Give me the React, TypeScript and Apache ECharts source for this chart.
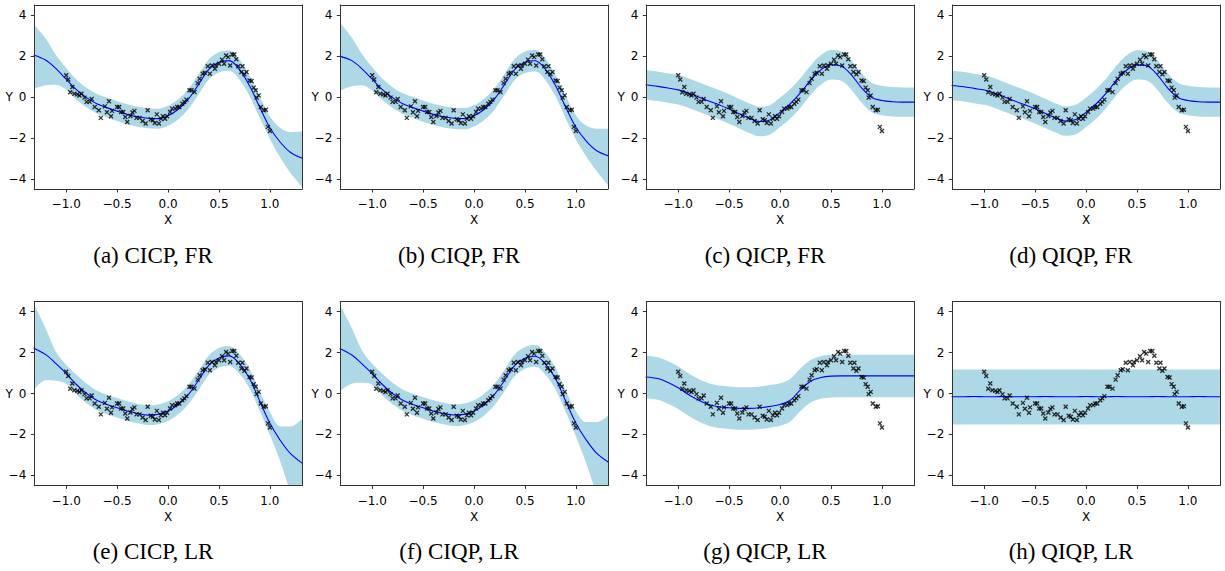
import React, { useEffect, useRef } from 'react';
import * as echarts from 'echarts';

// x positions at which the curves/bands were read
const X_NODES = [-1.32, -1.2, -1.1, -1.0, -0.9, -0.8, -0.7, -0.6, -0.5, -0.4, -0.3, -0.2, -0.1, 0.0, 0.1, 0.2, 0.3, 0.4, 0.5, 0.6, 0.7, 0.8, 0.9, 1.0, 1.1, 1.2, 1.32];

const MEAN_A = [2.05, 1.8, 1.39, 0.87, 0.36, -0.03, -0.33, -0.52, -0.69, -0.85, -0.97, -1.04, -1.06, -0.92, -0.6, -0.1, 0.62, 1.35, 1.7, 1.78, 1.35, 0.55, -0.5, -1.5, -2.2, -2.7, -3.0];
const UPPER_A = [3.55, 2.85, 2.05, 1.42, 0.86, 0.45, 0.15, -0.03, -0.2, -0.36, -0.48, -0.55, -0.57, -0.43, -0.11, 0.39, 1.11, 1.84, 2.2, 2.28, 1.85, 1.05, 0.02, -0.95, -1.5, -1.72, -1.68];
const LOWER_A = [0.4, 0.57, 0.6, 0.35, -0.12, -0.5, -0.8, -1.0, -1.18, -1.34, -1.46, -1.53, -1.55, -1.41, -1.09, -0.59, 0.13, 0.86, 1.2, 1.28, 0.86, 0.05, -1.02, -2.05, -2.95, -3.7, -4.42];

const MEAN_B = [2.0, 1.78, 1.38, 0.87, 0.36, -0.03, -0.33, -0.52, -0.69, -0.85, -0.97, -1.04, -1.06, -0.92, -0.6, -0.1, 0.62, 1.35, 1.7, 1.77, 1.35, 0.55, -0.5, -1.48, -2.15, -2.62, -2.88];
const UPPER_B = [3.65, 2.9, 2.1, 1.45, 0.9, 0.48, 0.18, 0.0, -0.17, -0.33, -0.45, -0.52, -0.54, -0.4, -0.08, 0.42, 1.14, 1.87, 2.23, 2.3, 1.88, 1.08, 0.05, -0.9, -1.4, -1.55, -1.55];
const LOWER_B = [0.3, 0.52, 0.58, 0.32, -0.15, -0.53, -0.83, -1.03, -1.21, -1.37, -1.49, -1.56, -1.58, -1.44, -1.12, -0.62, 0.1, 0.83, 1.17, 1.25, 0.83, 0.02, -1.05, -2.08, -2.9, -3.6, -4.35];

const MEAN_C = [0.6, 0.52, 0.44, 0.35, 0.2, 0.0, -0.2, -0.38, -0.59, -0.82, -1.04, -1.2, -1.12, -0.75, -0.33, 0.2, 0.82, 1.32, 1.58, 1.52, 1.08, 0.45, -0.02, -0.17, -0.23, -0.25, -0.25];
const UPPER_C = [1.32, 1.24, 1.16, 1.07, 0.92, 0.72, 0.52, 0.34, 0.13, -0.1, -0.32, -0.48, -0.4, -0.03, 0.39, 0.92, 1.54, 2.04, 2.3, 2.24, 1.8, 1.17, 0.7, 0.55, 0.49, 0.47, 0.47];
const LOWER_C = [-0.12, -0.2, -0.28, -0.37, -0.52, -0.72, -0.92, -1.1, -1.31, -1.54, -1.76, -1.92, -1.84, -1.47, -1.05, -0.52, 0.1, 0.6, 0.86, 0.8, 0.36, -0.27, -0.74, -0.89, -0.95, -0.97, -0.97];

const MEAN_D = [0.56, 0.5, 0.42, 0.34, 0.2, 0.0, -0.2, -0.38, -0.58, -0.8, -1.02, -1.18, -1.1, -0.75, -0.33, 0.2, 0.82, 1.32, 1.57, 1.52, 1.08, 0.45, -0.02, -0.17, -0.23, -0.25, -0.25];
const UPPER_D = [1.28, 1.22, 1.14, 1.06, 0.92, 0.72, 0.52, 0.34, 0.14, -0.08, -0.3, -0.46, -0.38, -0.03, 0.39, 0.92, 1.54, 2.04, 2.29, 2.24, 1.8, 1.17, 0.7, 0.55, 0.49, 0.47, 0.47];
const LOWER_D = [-0.16, -0.22, -0.3, -0.38, -0.52, -0.72, -0.92, -1.1, -1.3, -1.52, -1.74, -1.9, -1.82, -1.47, -1.05, -0.52, 0.1, 0.6, 0.85, 0.8, 0.36, -0.27, -0.74, -0.89, -0.95, -0.97, -0.97];

const MEAN_E = [2.23, 1.9, 1.46, 0.98, 0.44, 0.0, -0.33, -0.54, -0.7, -0.86, -0.98, -1.06, -1.02, -0.86, -0.54, -0.05, 0.65, 1.38, 1.74, 1.84, 1.46, 0.73, -0.37, -1.46, -2.28, -2.93, -3.42];
const UPPER_E = [4.4, 3.17, 2.03, 1.4, 0.92, 0.48, 0.15, -0.06, -0.22, -0.38, -0.5, -0.58, -0.54, -0.38, -0.06, 0.43, 1.13, 1.86, 2.22, 2.32, 1.94, 1.21, 0.11, -0.9, -1.6, -1.62, -1.22];
const LOWER_E = [0.15, 0.65, 0.62, 0.48, -0.04, -0.48, -0.81, -1.02, -1.18, -1.34, -1.46, -1.54, -1.5, -1.34, -1.02, -0.53, 0.17, 0.9, 1.26, 1.36, 0.98, 0.25, -0.85, -2.03, -3.3, -4.85, -6.8];

const MEAN_F = [2.2, 1.88, 1.45, 0.97, 0.44, 0.0, -0.33, -0.54, -0.7, -0.86, -0.98, -1.05, -1.02, -0.86, -0.54, -0.05, 0.65, 1.37, 1.73, 1.82, 1.45, 0.72, -0.37, -1.45, -2.26, -2.9, -3.36];
const UPPER_F = [4.35, 3.2, 2.1, 1.45, 0.97, 0.53, 0.2, -0.01, -0.17, -0.33, -0.45, -0.53, -0.49, -0.33, -0.01, 0.48, 1.18, 1.91, 2.27, 2.37, 1.99, 1.26, 0.16, -0.85, -1.4, -1.4, -1.06];
const LOWER_F = [0.1, 0.48, 0.52, 0.43, -0.09, -0.53, -0.86, -1.07, -1.23, -1.39, -1.51, -1.59, -1.55, -1.39, -1.07, -0.58, 0.12, 0.85, 1.21, 1.31, 0.93, 0.2, -0.9, -2.1, -3.4, -4.9, -6.8];

const MEAN_G = [0.81, 0.73, 0.54, 0.28, -0.05, -0.33, -0.54, -0.65, -0.7, -0.73, -0.73, -0.7, -0.63, -0.54, -0.33, 0.18, 0.6, 0.78, 0.85, 0.86, 0.86, 0.86, 0.86, 0.86, 0.86, 0.86, 0.86];
const UPPER_G = [1.85, 1.77, 1.58, 1.32, 0.99, 0.71, 0.5, 0.39, 0.34, 0.31, 0.31, 0.34, 0.41, 0.5, 0.71, 1.22, 1.64, 1.82, 1.89, 1.9, 1.9, 1.9, 1.9, 1.9, 1.9, 1.9, 1.9];
const LOWER_G = [-0.23, -0.31, -0.5, -0.76, -1.09, -1.37, -1.58, -1.69, -1.74, -1.77, -1.77, -1.74, -1.67, -1.58, -1.37, -0.86, -0.44, -0.26, -0.19, -0.18, -0.18, -0.18, -0.18, -0.18, -0.18, -0.18, -0.18];

const MEAN_H = [-0.16, -0.16, -0.15, -0.16, -0.16, -0.15, -0.16, -0.16, -0.16, -0.15, -0.16, -0.16, -0.16, -0.15, -0.16, -0.16, -0.15, -0.16, -0.16, -0.16, -0.15, -0.16, -0.16, -0.16, -0.15, -0.16, -0.16];
const UPPER_H = [1.18, 1.18, 1.18, 1.18, 1.18, 1.18, 1.18, 1.18, 1.18, 1.18, 1.18, 1.18, 1.18, 1.18, 1.18, 1.18, 1.18, 1.18, 1.18, 1.18, 1.18, 1.18, 1.18, 1.18, 1.18, 1.18, 1.18];
const LOWER_H = [-1.52, -1.52, -1.52, -1.52, -1.52, -1.52, -1.52, -1.52, -1.52, -1.52, -1.52, -1.52, -1.52, -1.52, -1.52, -1.52, -1.52, -1.52, -1.52, -1.52, -1.52, -1.52, -1.52, -1.52, -1.52, -1.52, -1.52];

const CAPTIONS = ['(a) CICP, FR', '(b) CIQP, FR', '(c) QICP, FR', '(d) QIQP, FR', '(e) CICP, LR', '(f) CIQP, LR', '(g) QICP, LR', '(h) QIQP, LR'];
const MEANS = [MEAN_A, MEAN_B, MEAN_C, MEAN_D, MEAN_E, MEAN_F, MEAN_G, MEAN_H];
const UPPERS = [UPPER_A, UPPER_B, UPPER_C, UPPER_D, UPPER_E, UPPER_F, UPPER_G, UPPER_H];
const LOWERS = [LOWER_A, LOWER_B, LOWER_C, LOWER_D, LOWER_E, LOWER_F, LOWER_G, LOWER_H];

// observed training points (same in every panel)
const POINTS_X = [-1.0, -0.98, -0.94, -0.96, -0.92, -0.89, -0.87, -0.85, -0.82, -0.8, -0.77, -0.75, -0.72, -0.68, -0.66, -0.62, -0.6, -0.58, -0.56, -0.55, -0.5, -0.48, -0.46, -0.44, -0.42, -0.4, -0.37, -0.35, -0.33, -0.31, -0.28, -0.25, -0.22, -0.2, -0.17, -0.15, -0.13, -0.11, -0.09, -0.07, -0.05, -0.03, -0.01, 0.02, 0.04, 0.07, 0.09, 0.11, 0.14, 0.16, 0.18, 0.21, 0.23, 0.26, 0.29, 0.31, 0.34, 0.36, 0.39, 0.41, 0.43, 0.46, 0.47, 0.5, 0.53, 0.55, 0.57, 0.59, 0.61, 0.63, 0.65, 0.67, 0.69, 0.72, 0.73, 0.75, 0.77, 0.8, 0.82, 0.84, 0.86, 0.87, 0.89, 0.91, 0.94, 0.96, 0.98, 1.0];
const POINTS_Y = [1.06, 0.86, 0.49, 0.23, 0.16, 0.13, 0.07, 0.16, -0.03, -0.24, -0.24, -0.1, -0.49, -0.65, -1.02, -0.46, -0.75, -0.21, -0.94, -0.68, -0.49, -0.49, -0.73, -0.73, -0.98, -1.22, -0.93, -0.76, -0.68, -1.02, -1.02, -1.17, -1.3, -0.65, -1.09, -1.14, -1.27, -0.85, -1.3, -1.06, -0.94, -1.06, -0.94, -0.73, -0.57, -0.57, -0.49, -0.49, -0.33, -0.24, -0.13, 0.33, 0.33, 0.24, 0.68, 0.89, 1.14, 1.19, 1.5, 1.14, 1.54, 1.38, 1.54, 1.63, 1.82, 1.63, 2.03, 1.95, 1.54, 2.08, 2.08, 1.85, 1.5, 1.22, 1.5, 1.11, 1.22, 0.81, 0.78, 0.46, 0.33, -0.03, 0.08, -0.49, -0.65, -0.62, -1.46, -1.66];

const X_TICKS = [-1, -0.5, 0, 0.5, 1];
const Y_TICKS = [-4, -2, 0, 2, 4];
const X_MIN = -1.313;
const X_MAX = 1.313;
const Y_MIN = -4.5;
const Y_MAX = 4.5;

const SPINE = '#333333';
const TICK_FONT = { fontFamily: 'DejaVu Sans', fontSize: 12, color: '#000000' };
const minus = (s: string) => s.replace('-', '\u2212');

function buildOption() {
  const grid: any[] = [];
  const xAxis: any[] = [];
  const yAxis: any[] = [];
  const series: any[] = [];
  const graphic: any[] = [];
  const scatterData = POINTS_X.map((x, i) => [x, POINTS_Y[i]]);

  for (let i = 0; i < 8; i++) {
    const col = i % 4;
    const row = Math.floor(i / 4);
    const left = 34.3 + 306 * col;
    const top = row === 0 ? 5 : 301.5;
    grid.push({ left, top, width: 267.5, height: 184, containLabel: false });

    xAxis.push({
      gridIndex: i, type: 'value', min: X_MIN, max: X_MAX, z: 10,
      axisLine: { show: true, onZero: false, lineStyle: { color: SPINE, width: 1 } },
      axisTick: { show: true, inside: false, length: 3.5, customValues: X_TICKS, lineStyle: { color: SPINE, width: 1 } },
      axisLabel: { show: true, customValues: X_TICKS, margin: 9, ...TICK_FONT, formatter: (v: number) => minus(v.toFixed(1)) },
      splitLine: { show: false },
      name: 'X', nameLocation: 'middle', nameGap: 25, nameMoveOverlap: false, nameTextStyle: { ...TICK_FONT },
    });
    xAxis.push({
      gridIndex: i, type: 'value', min: X_MIN, max: X_MAX, position: 'top', z: 10,
      axisLine: { show: true, onZero: false, lineStyle: { color: SPINE, width: 1 } },
      axisTick: { show: false }, axisLabel: { show: false }, splitLine: { show: false },
    });
    yAxis.push({
      gridIndex: i, type: 'value', min: Y_MIN, max: Y_MAX, z: 10,
      axisLine: { show: true, onZero: false, lineStyle: { color: SPINE, width: 1 } },
      axisTick: { show: true, inside: false, length: 3.5, customValues: Y_TICKS, lineStyle: { color: SPINE, width: 1 } },
      axisLabel: { show: true, customValues: Y_TICKS, margin: 8, ...TICK_FONT, formatter: (v: number) => minus(String(v)) },
      splitLine: { show: false },
      name: 'Y', nameLocation: 'middle', nameGap: 21.5, nameRotate: 0, nameMoveOverlap: false, nameTextStyle: { ...TICK_FONT },
    });
    yAxis.push({
      gridIndex: i, type: 'value', min: Y_MIN, max: Y_MAX, position: 'right', z: 10,
      axisLine: { show: true, onZero: false, lineStyle: { color: SPINE, width: 1 } },
      axisTick: { show: false }, axisLabel: { show: false }, splitLine: { show: false },
    });

    const xi = 2 * i;
    const yi = 2 * i;
    const up = X_NODES.map((x, k) => [x, UPPERS[i][k]]);
    const lo = X_NODES.map((x, k) => [x, LOWERS[i][k]]);
    const mu = X_NODES.map((x, k) => [x, MEANS[i][k]]);

    series.push({
      type: 'line', xAxisIndex: xi, yAxisIndex: yi, data: up, smooth: 0.35, symbol: 'none', silent: true,
      lineStyle: { width: 0, opacity: 0 },
      areaStyle: { color: '#add8e6', opacity: 1, origin: 'start' }, z: 1,
    });
    series.push({
      type: 'line', xAxisIndex: xi, yAxisIndex: yi, data: lo, smooth: 0.35, symbol: 'none', silent: true,
      lineStyle: { width: 0, opacity: 0 },
      areaStyle: { color: '#ffffff', opacity: 1, origin: 'start' }, z: 1,
    });
    series.push({
      type: 'line', xAxisIndex: xi, yAxisIndex: yi, data: mu, smooth: 0.35, symbol: 'none', silent: true,
      lineStyle: { width: 1.1, color: '#0000ff' }, z: 3,
    });
    series.push({
      type: 'scatter', xAxisIndex: xi, yAxisIndex: yi, data: scatterData, silent: true,
      symbol: 'path://M0,0L10,10M10,0L0,10', symbolSize: 4,
      itemStyle: { color: 'transparent', borderColor: '#000000', borderWidth: 1.3 }, z: 4,
    });

    graphic.push({
      type: 'text', x: 153 + 306 * col, y: row === 0 ? 255 : 551.5,
      style: {
        text: CAPTIONS[i], fontFamily: 'Liberation Serif', fontSize: 23, fill: '#000000',
        align: 'center', verticalAlign: 'middle', textAlign: 'center', textVerticalAlign: 'middle',
      },
    });
  }

  return { animation: false, backgroundColor: '#ffffff', grid, xAxis, yAxis, series, graphic };
}

export default function App() {
  const ref = useRef<HTMLDivElement>(null);
  useEffect(() => {
    if (!ref.current) return;
    const chart = echarts.init(ref.current, undefined, { renderer: 'svg' });
    chart.setOption(buildOption() as any);
    return () => chart.dispose();
  }, []);
  return <div ref={ref} style={{ position: 'absolute', left: 0, top: 0, width: 1225, height: 571 }} />;
}
